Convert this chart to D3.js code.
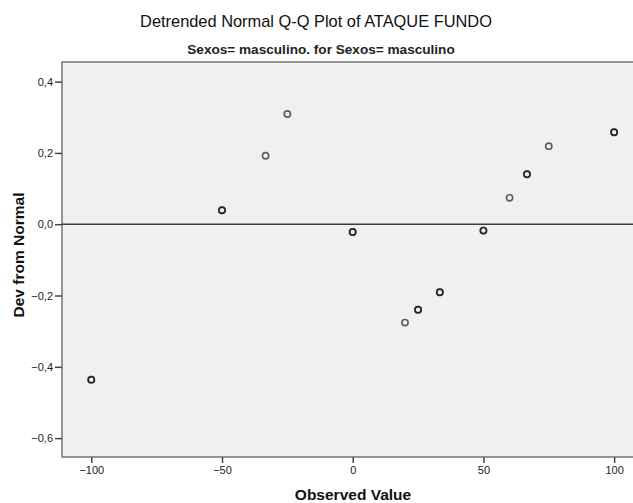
<!DOCTYPE html>
<html>
<head>
<meta charset="utf-8">
<script src="https://cdn.jsdelivr.net/npm/d3@7"></script>
<style>
  html, body { margin: 0; padding: 0; background: #ffffff; }
  svg { display: block; font-family: "Liberation Sans", Arial, sans-serif; }
</style>
</head>
<body>
<svg id="chart" width="633" height="503"></svg>
<script>
// Observed scores and their deviation from the normal line
const observedValues = [-100, -50, -33.33, -25, 0, 20, 25, 33.33, 50, 60, 66.67, 75, 100];
const devFromNormal  = [-0.436, 0.039, 0.192, 0.309, -0.022, -0.276, -0.240, -0.191, -0.018, 0.074, 0.140, 0.219, 0.258];
// number of cases sharing each point (tied scores overlap)
const caseCounts     = [2, 2, 1, 1, 2, 1, 2, 2, 2, 1, 2, 1, 2];

const xTickValues = [-100, -50, 0, 50, 100];
const yTickValues = [0.4, 0.2, 0.0, -0.2, -0.4, -0.6];

const titleText = "Detrended Normal Q-Q Plot of ATAQUE FUNDO";
const subtitleText = "Sexos= masculino. for Sexos= masculino";
const xLabel = "Observed Value";
const yLabel = "Dev from Normal";

const svg = d3.select("#chart");
const plot = { left: 62, top: 62, right: 634, bottom: 457 };

const x = d3.scaleLinear().domain([-111.2, 107.6]).range([plot.left, plot.right]);
const y = d3.scaleLinear().domain([-0.653, 0.455]).range([plot.bottom, plot.top]);

// plot background
svg.append("rect")
  .attr("x", plot.left).attr("y", plot.top)
  .attr("width", plot.right - plot.left).attr("height", plot.bottom - plot.top)
  .attr("fill", "#f0f0f0")
  .attr("stroke", "#767676").attr("stroke-width", 1.5);

// titles
svg.append("text")
  .attr("x", 316).attr("y", 27)
  .attr("text-anchor", "middle")
  .attr("font-size", 16.4).attr("fill", "#111")
  .text(titleText);

svg.append("text")
  .attr("x", 321).attr("y", 54)
  .attr("text-anchor", "middle")
  .attr("font-size", 13.6).attr("font-weight", "bold").attr("fill", "#222")
  .text(subtitleText);

// axes
const fmtComma = d => d3.format(".1f")(d).replace(".", ",");

const yAxis = svg.append("g")
  .attr("transform", `translate(${plot.left},0)`)
  .call(d3.axisLeft(y).tickValues(yTickValues).tickSize(7).tickPadding(2).tickFormat(fmtComma));
const xAxis = svg.append("g")
  .attr("transform", `translate(0,${plot.bottom})`)
  .call(d3.axisBottom(x).tickValues(xTickValues).tickSize(6).tickPadding(3).tickFormat(d3.format("d")));

[xAxis, yAxis].forEach(g => {
  g.select(".domain").remove();
  g.selectAll(".tick line").attr("stroke", "#444").attr("stroke-width", 1.5);
  g.selectAll(".tick text")
    .attr("font-family", "'Liberation Sans', Arial, sans-serif")
    .attr("font-size", 11).attr("fill", "#222");
});

// zero reference line
svg.append("line")
  .attr("x1", plot.left).attr("x2", plot.right)
  .attr("y1", y(0)).attr("y2", y(0))
  .attr("stroke", "#3c3c3c").attr("stroke-width", 1.5);

// one ring per case; tied cases overlap and read darker
const cases = [];
observedValues.forEach((v, i) => {
  for (let k = 0; k < caseCounts[i]; k++) cases.push({ v, d: devFromNormal[i] });
});

svg.append("g").selectAll("circle")
  .data(cases)
  .join("circle")
  .attr("cx", c => x(c.v))
  .attr("cy", c => y(c.d))
  .attr("r", 3.1)
  .attr("fill", "none")
  .attr("stroke", "#000")
  .attr("stroke-opacity", 0.6)
  .attr("stroke-width", 1.7);

// axis titles
svg.append("text")
  .attr("x", 353).attr("y", 500)
  .attr("text-anchor", "middle")
  .attr("font-size", 15.5).attr("font-weight", "bold").attr("fill", "#111")
  .text(xLabel);

svg.append("text")
  .attr("transform", "translate(24,255) rotate(-90)")
  .attr("text-anchor", "middle")
  .attr("font-size", 15.5).attr("font-weight", "bold").attr("fill", "#111")
  .text(yLabel);
</script>
</body>
</html>
